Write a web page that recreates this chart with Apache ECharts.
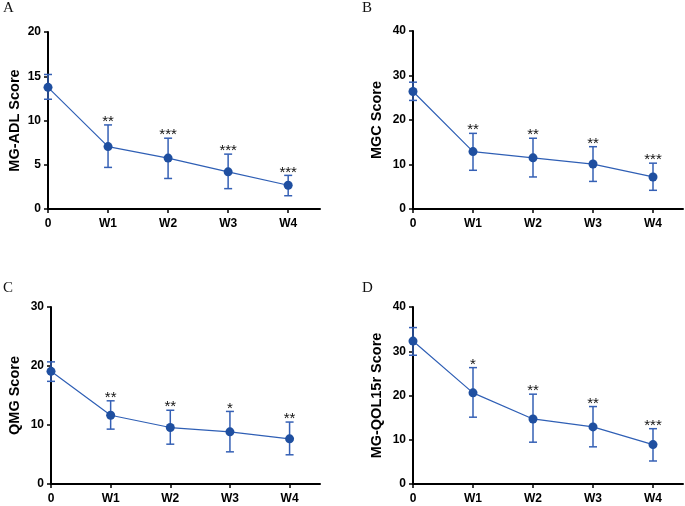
<!DOCTYPE html>
<html>
<head>
<meta charset="utf-8">
<script src="https://cdn.jsdelivr.net/npm/echarts@6/dist/echarts.min.js"></script>
<style>html,body{margin:0;padding:0;background:#fff}#c{width:685px;height:506px}</style>
</head>
<body>
<div id="c"></div>
<script>
var categories = ['0', 'W1', 'W2', 'W3', 'W4'];

var adlMean = [13.75, 7.05, 5.75, 4.2, 2.68];
var adlHi   = [15.2, 9.5, 8.0, 6.2, 3.8];
var adlLo   = [12.4, 4.7, 3.45, 2.3, 1.5];
var adlStars = ['', '**', '***', '***', '***'];

var mgcMean = [26.4, 12.9, 11.5, 10.1, 7.2];
var mgcHi   = [28.5, 17.0, 15.9, 14.0, 10.3];
var mgcLo   = [24.4, 8.7, 7.2, 6.2, 4.2];
var mgcStars = ['', '**', '**', '**', '***'];

var qmgMean = [19.1, 11.65, 9.57, 8.84, 7.65];
var qmgHi   = [20.7, 14.1, 12.5, 12.3, 10.5];
var qmgLo   = [17.4, 9.3, 6.75, 5.45, 4.95];
var qmgStars = ['', '**', '**', '*', '**'];

var qolMean = [32.3, 20.6, 14.7, 12.9, 8.9];
var qolHi   = [35.35, 26.3, 20.3, 17.5, 12.5];
var qolLo   = [29.1, 15.1, 9.45, 8.4, 5.2];
var qolStars = ['', '*', '**', '**', '***'];

var panelLetters = ['A', 'B', 'C', 'D'];
var yNames = ['MG-ADL Score', 'MGC Score', 'QMG Score', 'MG-QOL15r Score'];
var yMax = [20, 40, 30, 40];
var yInterval = [5, 10, 10, 10];

var panels = [
  {mean: adlMean, hi: adlHi, lo: adlLo, stars: adlStars},
  {mean: mgcMean, hi: mgcHi, lo: mgcLo, stars: mgcStars},
  {mean: qmgMean, hi: qmgHi, lo: qmgLo, stars: qmgStars},
  {mean: qolMean, hi: qolHi, lo: qolLo, stars: qolStars}
];

var grids = [
  {left: 48, top: 32, width: 272, height: 177},
  {left: 413, top: 31, width: 270, height: 178},
  {left: 51, top: 307, width: 269, height: 177},
  {left: 413, top: 307, width: 270, height: 177}
];
var xMax = [4.53, 4.5, 4.51, 4.5];
var nameGaps = [26, 29, 29, 29];
var letterPos = [[3, 1], [362, 1], [3, 281], [362, 281]];

var LINE = '#2f5fb5';
var DOT = '#1f4fa0';
var ERR = '#3560b5';
var idx = [0, 1, 2, 3, 4];

var option = {
  animation: false,
  backgroundColor: '#fff',
  title: panelLetters.map(function (t, i) {
    return {text: t, left: letterPos[i][0], top: letterPos[i][1], padding: 0,
      textStyle: {fontFamily: 'Liberation Serif', fontSize: 15, fontWeight: 'normal', color: '#111'}};
  }),
  grid: grids,
  xAxis: grids.map(function (g, i) {
    return {
      type: 'value', gridIndex: i, min: 0, max: xMax[i],
      splitLine: {show: false},
      axisLine: {show: true, onZero: false, lineStyle: {color: '#000', width: 2}},
      axisTick: {show: true, length: 4, customValues: idx, lineStyle: {color: '#000', width: 1.5}},
      axisLabel: {customValues: idx, margin: 9, fontFamily: 'Liberation Sans', fontWeight: 'bold', fontSize: 12, color: '#000',
        formatter: function (v) { return categories[Math.round(v)]; }}
    };
  }),
  yAxis: grids.map(function (g, i) {
    return {
      type: 'value', gridIndex: i, min: 0, max: yMax[i], interval: yInterval[i],
      name: yNames[i], nameLocation: 'middle', nameGap: nameGaps[i],
      nameTextStyle: {fontFamily: 'Liberation Sans', fontWeight: 'bold', fontSize: 14.5, color: '#000'},
      splitLine: {show: false},
      axisLine: {show: true, lineStyle: {color: '#000', width: 2}},
      axisTick: {show: true, length: 4, lineStyle: {color: '#000', width: 1.5}},
      axisLabel: {margin: 7, fontFamily: 'Liberation Sans', fontWeight: 'bold', fontSize: 12, color: '#000'}
    };
  }),
  series: []
};

panels.forEach(function (p, i) {
  option.series.push({
    type: 'custom', xAxisIndex: i, yAxisIndex: i, z: 2,
    data: idx.map(function (k) { return [k, p.lo[k], p.hi[k]]; }),
    encode: {x: 0, y: [1, 2]},
    renderItem: function (params, api) {
      var x = api.value(0);
      var a = api.coord([x, api.value(1)]);
      var b = api.coord([x, api.value(2)]);
      var hw = 4;
      var st = {stroke: ERR, lineWidth: 1.5};
      var ch = [
        {type: 'line', shape: {x1: a[0], y1: a[1], x2: b[0], y2: b[1]}, style: st},
        {type: 'line', shape: {x1: a[0] - hw, y1: a[1], x2: a[0] + hw, y2: a[1]}, style: st},
        {type: 'line', shape: {x1: b[0] - hw, y1: b[1], x2: b[0] + hw, y2: b[1]}, style: st}
      ];
      var s = p.stars[params.dataIndex];
      if (s) {
        ch.push({type: 'text', x: b[0], y: b[1] - 3,
          style: {text: s, fill: '#111', font: '15px "Liberation Sans"', align: 'center', verticalAlign: 'middle'}});
      }
      return {type: 'group', children: ch};
    }
  });
  option.series.push({
    type: 'line', xAxisIndex: i, yAxisIndex: i, z: 3,
    data: idx.map(function (k) { return [k, p.mean[k]]; }),
    symbol: 'circle', symbolSize: 9,
    itemStyle: {color: DOT},
    lineStyle: {color: LINE, width: 1.2}
  });
});

var chart = echarts.init(document.getElementById('c'), null, {renderer: 'canvas'});
chart.setOption(option);
</script>
</body>
</html>
